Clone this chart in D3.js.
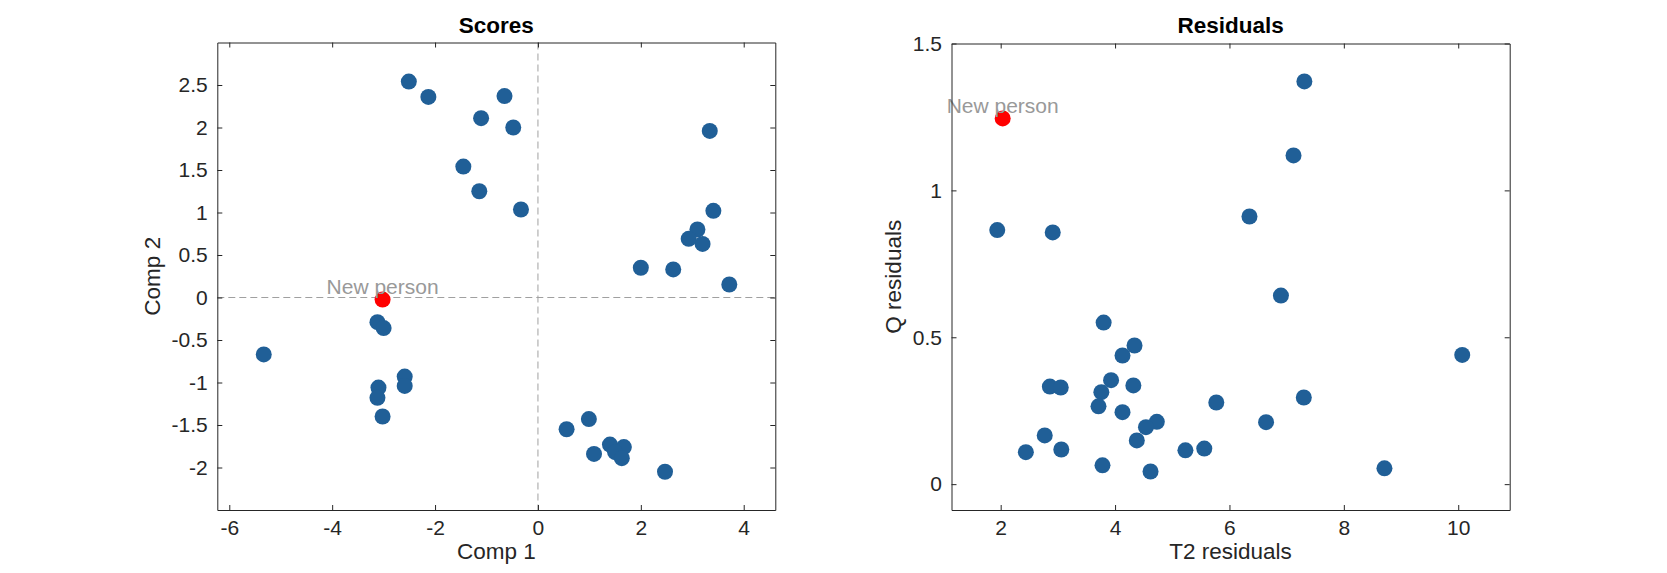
<!DOCTYPE html>
<meta charset="utf-8">
<style>
  body {
    margin: 0;
    background: #fff;
  }
  text {
    font-family: "Liberation Sans", Arial, sans-serif;
  }
</style>
<body>
<script src="https://cdn.jsdelivr.net/npm/d3@7"></script>
<script>
  // ---- scores (comp 1 / comp 2) ----
  var scoreX = [-2.51, -2.13, -0.65, -1.105, -0.48, -1.45, -1.14, -0.33,
    3.34, 3.41, 3.10, 2.93, 3.20, 2.00, 2.63, 3.72,
    -3.12, -3.00, -5.33, -2.59, -2.59, -3.10, -3.12, -3.02,
    0.557, 0.99, 1.09, 1.40, 1.67, 1.50, 1.63, 2.47];
  var scoreY = [2.54, 2.36, 2.37, 2.11, 2.00, 1.54, 1.25, 1.035,
    1.96, 1.02, 0.80, 0.69, 0.63, 0.35, 0.33, 0.153,
    -0.29, -0.36, -0.67, -0.93, -1.04, -1.06, -1.18, -1.40,
    -1.55, -1.43, -1.84, -1.73, -1.76, -1.82, -1.89, -2.05];
  var newScore = [-3.02, -0.024];

  // ---- residuals (T2 / Q) ----
  var t2 = [7.31, 7.12, 6.35, 1.94, 2.91, 6.90, 3.80, 4.34, 4.13, 2.86,
    3.05, 3.93, 4.32, 3.76, 3.71, 4.13, 5.77, 7.30, 6.64, 4.73,
    4.54, 2.77, 4.38, 2.44, 3.06, 5.23, 5.56, 3.78, 4.62, 8.71, 10.07];
  var qres = [1.371, 1.119, 0.911, 0.865, 0.857, 0.642, 0.550, 0.472, 0.438, 0.332,
    0.329, 0.354, 0.336, 0.313, 0.265, 0.245, 0.278, 0.295, 0.211, 0.212,
    0.194, 0.166, 0.149, 0.109, 0.118, 0.115, 0.121, 0.064, 0.043, 0.054, 0.44];
  var newResid = [2.035, 1.245];

  // ticks
  var scoreXTicks = [-6, -4, -2, 0, 2, 4];
  var scoreYTicks = [-2, -1.5, -1, -0.5, 0, 0.5, 1, 1.5, 2, 2.5];
  var residXTicks = [2, 4, 6, 8, 10];
  var residYTicks = [0, 0.5, 1, 1.5];

  var width = 1667, height = 573;
  var blue = "#205f97", axisColor = "#262626";

  var svg = d3.select("body").append("svg")
    .attr("width", width)
    .attr("height", height);

  // draws one panel; box = [left, top, right, bottom] in px
  function panel(opt) {
    var x = d3.scaleLinear().domain(opt.xDomain).range([opt.box[0], opt.box[2]]);
    var y = d3.scaleLinear().domain(opt.yDomain).range([opt.box[3], opt.box[1]]);
    var g = svg.append("g");

    // zero lines
    if (opt.zeroLines) {
      g.append("line")
        .attr("x1", x(0)).attr("x2", x(0))
        .attr("y1", opt.box[1]).attr("y2", opt.box[3])
        .attr("stroke", "#a0a0a0").attr("stroke-dasharray", "7,4");
      g.append("line")
        .attr("x1", opt.box[0]).attr("x2", opt.box[2])
        .attr("y1", y(0)).attr("y2", y(0))
        .attr("stroke", "#a0a0a0").attr("stroke-dasharray", "7,4");
    }

    // points
    g.selectAll("circle.pt")
      .data(d3.range(opt.xs.length))
      .enter().append("circle")
        .attr("class", "pt")
        .attr("cx", function(i) { return x(opt.xs[i]); })
        .attr("cy", function(i) { return y(opt.ys[i]); })
        .attr("r", 8)
        .style("fill", blue);

    // the new person
    g.append("circle")
      .attr("cx", x(opt.extra[0]))
      .attr("cy", y(opt.extra[1]))
      .attr("r", 8)
      .style("fill", "#ff0000");
    g.append("text")
      .attr("x", x(opt.extra[0]))
      .attr("y", y(opt.extra[1]) - 5.5)
      .attr("text-anchor", "middle")
      .attr("font-size", 21)
      .attr("fill", "#999999")
      .text("New person");

    // axes, ticks inside on every side
    var fmt = function(d) { return String(d); };
    g.append("g")
      .attr("transform", "translate(0," + opt.box[3] + ")")
      .call(d3.axisBottom(x).tickValues(opt.xTicks).tickFormat(fmt)
        .tickSizeInner(-5).tickSizeOuter(0).tickPadding(10));
    g.append("g")
      .attr("transform", "translate(0," + opt.box[1] + ")")
      .call(d3.axisTop(x).tickValues(opt.xTicks).tickFormat("")
        .tickSizeInner(-5).tickSizeOuter(0));
    g.append("g")
      .attr("transform", "translate(" + opt.box[0] + ",0)")
      .call(d3.axisLeft(y).tickValues(opt.yTicks).tickFormat(fmt)
        .tickSizeInner(-5).tickSizeOuter(0).tickPadding(9.5));
    g.append("g")
      .attr("transform", "translate(" + opt.box[2] + ",0)")
      .call(d3.axisRight(y).tickValues(opt.yTicks).tickFormat("")
        .tickSizeInner(-5).tickSizeOuter(0));

    g.selectAll(".domain, .tick line").attr("stroke", axisColor);
    g.selectAll(".tick text")
      .attr("fill", axisColor)
      .style("font-size", "21px")
      .style("font-family", "'Liberation Sans', Arial, sans-serif");

    var cx = (opt.box[0] + opt.box[2]) / 2;
    var cy = (opt.box[1] + opt.box[3]) / 2;

    // title
    g.append("text")
      .attr("x", cx).attr("y", 33)
      .attr("text-anchor", "middle")
      .attr("font-size", 22.5)
      .attr("font-weight", "bold")
      .attr("fill", "#000")
      .text(opt.title);

    // axis labels
    g.append("text")
      .attr("x", cx).attr("y", 559)
      .attr("text-anchor", "middle")
      .attr("font-size", 22.5)
      .attr("fill", axisColor)
      .text(opt.xLabel);
    g.append("text")
      .attr("transform", "translate(" + opt.yLabelX + "," + cy + ") rotate(-90)")
      .attr("text-anchor", "middle")
      .attr("font-size", 22.5)
      .attr("fill", axisColor)
      .text(opt.yLabel);
  }

  panel({
    box: [217.3, 42.5, 775.3, 510],
    xDomain: [-6.233, 4.614],
    yDomain: [-2.5, 3],
    xs: scoreX, ys: scoreY, extra: newScore,
    xTicks: scoreXTicks, yTicks: scoreYTicks,
    zeroLines: true,
    title: "Scores", xLabel: "Comp 1", yLabel: "Comp 2",
    yLabelX: 160
  });

  panel({
    box: [951.5, 43.5, 1509.7, 510],
    xDomain: [1.14, 10.9],
    yDomain: [-0.088, 1.5],
    xs: t2, ys: qres, extra: newResid,
    xTicks: residXTicks, yTicks: residYTicks,
    zeroLines: false,
    title: "Residuals", xLabel: "T2 residuals", yLabel: "Q residuals",
    yLabelX: 901
  });
</script>
</body>
